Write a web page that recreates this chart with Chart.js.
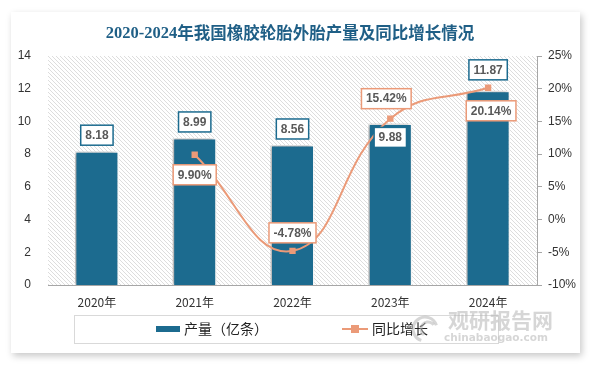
<!DOCTYPE html>
<html><head><meta charset="utf-8">
<script src="https://cdn.jsdelivr.net/npm/chart.js@4/dist/chart.umd.min.js"></script>
<style>
html,body{margin:0;padding:0;background:#fff;width:594px;height:366px;overflow:hidden;}
#card{position:absolute;left:11px;top:12px;width:569px;height:341px;background:#fff;box-shadow:2px 3px 7px rgba(0,0,0,0.22);}
#wrap{position:absolute;left:0;top:0;width:594px;height:366px;}
</style></head>
<body>
<div id="card"></div>
<div id="wrap"><canvas id="c" width="594" height="366"></canvas></div>
<script>
const titleYears = '2020-2024';
const titleText = '年我国橡胶轮胎外胎产量及同比增长情况';
const categories = ['2020年','2021年','2022年','2023年','2024年'];
const outputLabel = '产量（亿条）';
const output = [8.18, 8.99, 8.56, 9.88, 11.87];
const growthLabel = '同比增长';
const growth = [null, 9.90, -4.78, 15.42, 20.14];
const leftAxis = {min: 0, max: 14, step: 2};
const rightAxis = {min: -10, max: 25, step: 5};

const BLUE = '#1c6b8f';
const ORANGE = '#eb9a78';
const TEXT = '#333333';
const LABEL_TEXT = '#595959';

// label placement styles
const barLabelPlace = ['above','above','above','inside','above'];
const barLabelGap = [6, 6, 6, 4, 11];
const lineLabelPlace = [null,'below','above','above','below'];
const lineLabelGap = [0, 10, 8, 10, 13];
const lineLabelDx = [0, 0, 0, -4, 3];

function makePattern(ctx){
  const p = document.createElement('canvas');
  p.width = 4; p.height = 4;
  const g = p.getContext('2d');
  g.strokeStyle = '#d4d4d4';
  g.lineWidth = 0.8;
  g.beginPath();
  g.moveTo(0,0); g.lineTo(4,4);
  g.moveTo(-1,3); g.lineTo(1,5);
  g.moveTo(3,-1); g.lineTo(5,1);
  g.stroke();
  return ctx.createPattern(p,'repeat');
}

function drawBox(ctx, text, cx, cy, border){
  ctx.font = 'bold 12px "Liberation Sans", Arial, sans-serif';
  const w = ctx.measureText(text).width + 9;
  const h = 20;
  ctx.fillStyle = '#fff';
  ctx.fillRect(cx - w/2, cy - h/2, w, h);
  ctx.strokeStyle = border;
  ctx.lineWidth = 1.5;
  ctx.strokeRect(cx - w/2, cy - h/2, w, h);
  ctx.fillStyle = LABEL_TEXT;
  ctx.textAlign = 'center';
  ctx.textBaseline = 'middle';
  ctx.fillText(text, cx, cy + 0.5);
}

const customPlugin = {
  id: 'custom',
  beforeDraw(chart){
    const {ctx, chartArea: a} = chart;
    ctx.save();
    ctx.fillStyle = makePattern(ctx);
    ctx.fillRect(a.left, a.top, a.right - a.left, a.bottom - a.top);
    ctx.restore();
    // title
    ctx.save();
    ctx.fillStyle = '#1f5f86';
    ctx.textAlign = 'left';
    ctx.textBaseline = 'middle';
    ctx.font = 'bold 16.5px "Liberation Serif", "Noto Sans CJK SC", serif';
    const w1 = ctx.measureText(titleYears).width;
    ctx.font = 'bold 16.5px "Noto Sans CJK SC", sans-serif';
    const w2 = ctx.measureText(titleText).width;
    let x0 = 290 - (w1 + w2) / 2;
    ctx.font = 'bold 16.5px "Liberation Serif", "Noto Sans CJK SC", serif';
    ctx.fillText(titleYears, x0, 34);
    ctx.font = 'bold 16.5px "Noto Sans CJK SC", sans-serif';
    ctx.fillText(titleText, x0 + w1, 33);
    ctx.restore();
  },
  beforeDatasetDraw(chart, args){
    if (args.index === 0){
      const ctx = chart.ctx;
      ctx.save();
      ctx.shadowColor = 'rgba(0,0,0,0.35)';
      ctx.shadowBlur = 4;
      ctx.shadowOffsetX = -2;
      ctx.shadowOffsetY = 0;
    }
  },
  afterDatasetDraw(chart, args){
    if (args.index === 0) chart.ctx.restore();
  },
  afterDraw(chart){
    const ctx = chart.ctx;
    ctx.save();
    const bm = chart.getDatasetMeta(0);
    bm.data.forEach((el, i) => {
      const txt = output[i].toFixed(2);
      let cy;
      if (barLabelPlace[i] === 'inside') cy = el.y + barLabelGap[i] + 10;
      else cy = el.y - barLabelGap[i] - 10;
      drawBox(ctx, txt, el.x, cy, BLUE);
    });
    const lm = chart.getDatasetMeta(1);
    lm.data.forEach((el, i) => {
      if (growth[i] === null) return;
      const txt = growth[i].toFixed(2) + '%';
      let cy;
      if (lineLabelPlace[i] === 'below') cy = el.y + lineLabelGap[i] + 10;
      else cy = el.y - lineLabelGap[i] - 10;
      drawBox(ctx, txt, el.x + lineLabelDx[i], cy, ORANGE);
    });
    // legend
    ctx.strokeStyle = '#d9d9d9';
    ctx.lineWidth = 1;
    ctx.strokeRect(74.5, 315.5, 424, 28);
    ctx.fillStyle = BLUE;
    ctx.fillRect(156, 326, 24, 6);
    ctx.font = '14px "Noto Sans CJK SC", sans-serif';
    ctx.fillStyle = '#222';
    ctx.textAlign = 'left';
    ctx.textBaseline = 'middle';
    ctx.fillText(outputLabel, 184, 329);
    ctx.strokeStyle = ORANGE;
    ctx.lineWidth = 2;
    ctx.beginPath(); ctx.moveTo(342, 329); ctx.lineTo(368, 329); ctx.stroke();
    ctx.fillStyle = ORANGE;
    ctx.fillRect(351, 325, 8, 8);
    ctx.fillStyle = '#222';
    ctx.fillText(growthLabel, 372, 329);
    // watermark
    ctx.globalAlpha = 0.55;
    ctx.fillStyle = '#b5b5b5';
    ctx.font = 'bold 21px "Noto Sans CJK SC", sans-serif';
    ctx.fillText('观研报告网', 448, 320);
    ctx.font = 'bold 10.5px "DejaVu Sans", sans-serif';
    ctx.fillText('chinabaogao.com', 444, 338);
    ctx.strokeStyle = '#b5b5b5';
    ctx.lineWidth = 3;
    ctx.beginPath(); ctx.arc(425, 329, 12, Math.PI*0.6, Math.PI*1.9); ctx.stroke();
    ctx.beginPath(); ctx.arc(428, 329, 7, Math.PI*0.7, Math.PI*1.8); ctx.stroke();
    ctx.restore();
  }
};

new Chart(document.getElementById('c'), {
  data: {
    labels: categories,
    datasets: [
      {
        type: 'bar', label: outputLabel, data: output, yAxisID: 'y',
        backgroundColor: BLUE, borderColor: '#ffffff', borderWidth: 1.5,
        barPercentage: 0.45, categoryPercentage: 1, order: 1
      },
      {
        type: 'line', label: growthLabel, data: growth, yAxisID: 'y1',
        borderColor: ORANGE, borderWidth: 2, backgroundColor: ORANGE,
        pointStyle: 'rect', pointRadius: 4.5, pointBorderWidth: 0,
        tension: 0.45, spanGaps: false, order: 0
      }
    ]
  },
  options: {
    responsive: false, animation: false, devicePixelRatio: 1,
    layout: {padding: {left: 0, right: 0, top: 56, bottom: 0}},
    plugins: {legend: {display: false}, tooltip: {enabled: false}, title: {display: false}},
    scales: {
      x: {
        grid: {display: false, drawTicks: false},
        border: {display: true, color: '#a6a6a6', width: 1},
        ticks: {color: TEXT, font: {size: 12, family: '"Noto Sans CJK SC", sans-serif'}, padding: 10},
        afterFit(s){ s.height = 81; }
      },
      y: {
        position: 'left', min: leftAxis.min, max: leftAxis.max,
        grid: {display: false, drawTicks: false},
        border: {display: false},
        ticks: {stepSize: leftAxis.step, color: TEXT, font: {size: 12, family: '"Liberation Sans", Arial, sans-serif'}, padding: 17},
        afterFit(s){ s.width = 48; }
      },
      y1: {
        position: 'right', min: rightAxis.min, max: rightAxis.max,
        grid: {display: true, drawOnChartArea: false, drawTicks: true, tickLength: 5, color: '#a6a6a6'},
        border: {display: true, color: '#a6a6a6', width: 1},
        ticks: {stepSize: rightAxis.step, color: TEXT, font: {size: 12, family: '"Liberation Sans", Arial, sans-serif'}, padding: 6,
          callback: v => v + '%'},
        afterFit(s){ s.width = 57; }
      }
    }
  },
  plugins: [customPlugin]
});
</script>
</body></html>
